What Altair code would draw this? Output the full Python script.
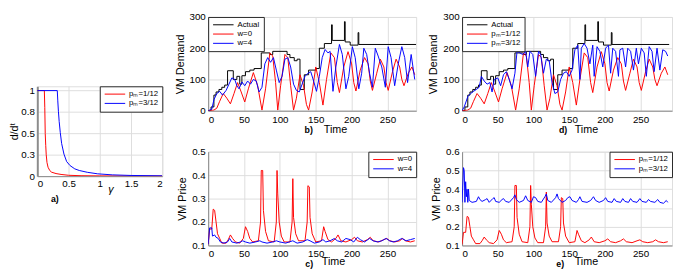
import altair as alt
import pandas as pd

FONT = "Liberation Sans"
RED, BLUE, BLACK = "#ff0000", "#0000ff", "#000000"

# ---------------- panel a ----------------
GAMMA_P1 = [0, 0.113, 0.12, 0.127, 0.135, 0.143, 0.155, 0.172, 0.2, 0.23, 0.3, 0.38, 0.5, 0.7, 1.0, 1.5, 2.0]
FRAC_P1 = [1, 1, 0.8, 0.5, 0.36, 0.25, 0.16, 0.104, 0.065, 0.046, 0.03, 0.02, 0.01, 0.005, 0.003, 0.002, 0.001]
GAMMA_P3 = [0, 0.32, 0.328, 0.338, 0.35, 0.368, 0.39, 0.427, 0.47, 0.525, 0.6, 0.672, 0.8, 0.966, 1.2, 1.5, 2.0]
FRAC_P3 = [1, 1, 0.88, 0.758, 0.64, 0.508, 0.38, 0.257, 0.17, 0.123, 0.085, 0.066, 0.045, 0.027, 0.015, 0.008, 0.004]

# ---------------- demand (b, d) ----------------
T_ACTUAL = [0, 4, 8, 11, 15, 19, 23, 27, 35, 40, 44, 47, 52, 58, 64, 74, 86, 90, 110, 114, 120, 124,
            128, 134, 140, 150, 155, 162, 172, 173, 190, 191, 198, 209, 210, 290]
V_ACTUAL = [0, 12, 50, 60, 68, 75, 82, 128, 100, 110, 85, 112, 125, 130, 135, 185, 180, 190, 180, 170, 160, 165,
            68, 115, 130, 135, 200, 215, 275, 225, 285, 220, 210, 250, 212, 212]

T_RED_DEM = [0, 8, 12, 16, 21, 26, 31, 36, 41, 46, 51, 56, 63, 69, 75, 80, 86, 90, 94, 97, 101, 107, 111, 115,
             119, 123, 128, 133, 137, 140, 145, 150, 155, 160, 165, 171, 176, 180, 183, 189, 195, 200, 203, 206,
             212, 218, 223, 226, 229, 235, 240, 245, 248, 251, 257, 262, 267, 270, 273, 279, 284, 288]
V_RED_DEM = [0, 2, 8, 30, 55, 40, 22, 55, 90, 60, 28, 70, 122, 80, 2, 70, 185, 175, 90, 2, 80, 180, 170, 80,
             2, 40, 115, 80, 20, 2, 60, 140, 90, 18, 100, 185, 170, 90, 58, 140, 189, 150, 90, 63,
             130, 170, 150, 95, 65, 120, 165, 140, 90, 65, 125, 165, 140, 100, 80, 120, 140, 115]

T_BLUE_W4 = [0, 5, 8, 12, 16, 20, 25, 29, 33, 37, 40, 43, 47, 51, 55, 59, 63, 67, 71, 75, 79, 83, 87, 91, 95,
             99, 103, 107, 111, 115, 119, 123, 127, 131, 135, 139, 143, 147, 151, 155, 159, 163, 167, 170, 174,
             178, 183, 187, 192, 196, 201, 205, 210, 214, 217, 221, 225, 229, 233, 237, 242, 247, 251, 255,
             260, 265, 270, 274, 278, 283, 288]
V_BLUE_W4 = [0, 5, 35, 55, 62, 50, 65, 85, 105, 100, 80, 70, 92, 80, 95, 85, 100, 95, 60, 75, 150, 170, 155, 170, 130,
             90, 110, 165, 170, 140, 85, 65, 60, 85, 110, 120, 125, 95, 62, 110, 170, 196, 185, 190, 62,
             140, 212, 180, 70, 110, 205, 170, 70, 120, 200, 180, 120, 75, 200, 175, 140, 75, 205, 170,
             80, 150, 205, 170, 90, 180, 100]

T_BLUE_P3 = [0, 3, 8, 12, 16, 20, 24, 27, 31, 35, 39, 42, 45, 50, 54, 58, 62, 66, 70, 74, 77, 81, 85, 89, 92,
             95, 99, 103, 107, 110, 114, 118, 122, 126, 130, 134, 138, 142, 146, 150, 154, 158, 162, 165, 167,
             171, 175, 179, 183, 185, 189, 193, 197, 201, 205, 208, 211, 215, 219, 221, 225, 229, 232, 236,
             240, 244, 247, 251, 255, 258, 262, 266, 269, 273, 277, 281, 285, 288]
V_BLUE_P3 = [0, 12, 45, 55, 62, 68, 75, 110, 95, 85, 90, 60, 100, 105, 80, 115, 125, 100, 70, 120, 190, 185, 180, 190, 140,
             190, 180, 110, 190, 180, 120, 165, 160, 90, 55, 60, 100, 120, 125, 110, 130, 195, 210, 100, 200,
             215, 200, 150, 210, 110, 205, 190, 140, 200, 210, 120, 200, 190, 110, 195, 200, 140, 200, 190,
             130, 200, 150, 200, 185, 110, 205, 190, 125, 200, 130, 195, 190, 175]

# ---------------- price (c, e) ----------------
T_RED_PRICE = [0, 2, 5, 7, 9, 11, 13, 16, 19, 25, 28, 31, 34, 38, 44, 49, 52, 55, 58, 62, 70, 73, 74, 76, 77, 80,
               84, 92, 95, 96, 97, 99, 102, 106, 114, 117, 118, 119, 122, 126, 135, 138, 139, 141, 142, 145,
               150, 158, 161, 163, 167, 172, 178, 181, 185, 192, 200, 204, 208, 215, 222, 226, 230, 238, 245,
               249, 253, 260, 267, 271, 275, 282, 288]
V_RED_PRICE = [0.105, 0.17, 0.17, 0.255, 0.25, 0.2, 0.15, 0.13, 0.11, 0.11, 0.125, 0.145, 0.13, 0.115, 0.11, 0.13,
               0.18, 0.16, 0.13, 0.115, 0.12, 0.2, 0.42, 0.42, 0.25, 0.16, 0.12, 0.115, 0.2, 0.42, 0.32, 0.2,
               0.14, 0.115, 0.115, 0.2, 0.385, 0.22, 0.15, 0.12, 0.12, 0.2, 0.355, 0.35, 0.22, 0.15, 0.115, 0.12,
               0.18, 0.16, 0.125, 0.115, 0.13, 0.145, 0.12, 0.115, 0.125, 0.135, 0.12, 0.115, 0.125, 0.135,
               0.12, 0.115, 0.125, 0.13, 0.12, 0.115, 0.12, 0.13, 0.12, 0.115, 0.12]

T_BLUE_W4_PRICE = [0, 2, 5, 6, 9, 11, 14, 17, 22, 27, 30, 33, 40, 45, 48, 52, 58, 66, 72, 75, 82, 90, 95, 100,
                   108, 113, 118, 124, 132, 138, 142, 148, 155, 160, 164, 170, 176, 180, 186, 192, 198, 203,
                   208, 212, 218, 225, 230, 236, 242, 248, 253, 258, 264, 270, 276, 282, 288]
V_BLUE_W4_PRICE = [0.105, 0.175, 0.175, 0.14, 0.145, 0.135, 0.13, 0.115, 0.11, 0.115, 0.13, 0.115, 0.11, 0.115,
                   0.12, 0.115, 0.11, 0.115, 0.12, 0.115, 0.11, 0.115, 0.12, 0.115, 0.11, 0.115, 0.12, 0.11,
                   0.115, 0.125, 0.12, 0.11, 0.115, 0.125, 0.115, 0.12, 0.13, 0.12, 0.115, 0.13, 0.125, 0.115,
                   0.135, 0.125, 0.115, 0.13, 0.12, 0.115, 0.12, 0.13, 0.12, 0.115, 0.12, 0.13, 0.12, 0.125, 0.13]

T_BLUE_P3_PRICE = [0, 2, 3, 4, 5, 6, 7, 8, 9, 10, 14, 20, 23, 25, 28, 33, 35, 38, 43, 45, 47, 52, 56, 58, 61,
                   66, 72, 74, 76, 80, 86, 89, 92, 97, 100, 103, 106, 111, 116, 118, 120, 125, 131, 133, 135,
                   140, 145, 148, 151, 154, 160, 163, 165, 168, 175, 180, 184, 187, 192, 198, 201, 204, 210,
                   213, 216, 222, 225, 228, 233, 236, 239, 245, 249, 252, 258, 261, 264, 270, 274, 277, 282,
                   286, 288]
V_BLUE_P3_PRICE = [0.33, 0.515, 0.5, 0.33, 0.44, 0.36, 0.40, 0.33, 0.40, 0.34, 0.33, 0.335, 0.36, 0.345, 0.335,
                   0.345, 0.35, 0.33, 0.35, 0.355, 0.335, 0.33, 0.345, 0.35, 0.335, 0.33, 0.355, 0.37, 0.345,
                   0.33, 0.34, 0.365, 0.34, 0.33, 0.36, 0.355, 0.335, 0.33, 0.36, 0.375, 0.34, 0.33, 0.355,
                   0.375, 0.35, 0.33, 0.34, 0.355, 0.36, 0.34, 0.33, 0.345, 0.36, 0.335, 0.33, 0.34, 0.36,
                   0.34, 0.33, 0.34, 0.355, 0.335, 0.33, 0.35, 0.335, 0.33, 0.35, 0.335, 0.33, 0.35, 0.335,
                   0.33, 0.35, 0.335, 0.33, 0.345, 0.335, 0.33, 0.345, 0.33, 0.325, 0.34, 0.33]

LAB_ACTUAL = "Actual"
LAB_W0, LAB_W4 = "w=0", "w=4"
LAB_P1, LAB_P3 = "p\u2098=1/12", "p\u2098=3/12"
TIME_TICKS = [0, 50, 100, 150, 200, 250]

# zero-length, invisible ticks so labels sit exactly labelPadding away from the frame
TICK = dict(ticks=True, tickSize=0, tickColor="transparent")


def frame(t, v, s):
    return pd.DataFrame({"t": t, "v": v, "s": s})


def legend(orient):
    return alt.Legend(orient=orient, offset=0, title=None, padding=4, strokeColor="#262626",
                      fillColor="#ffffff", symbolType="M-1,0H6", symbolSize=36, symbolStrokeWidth=1,
                      labelFontSize=8, labelFont=FONT, labelColor="#000000", labelOffset=18,
                      rowPadding=1.5, cornerRadius=0)


def color_enc(domain, rng, orient):
    return alt.Color("s:N", scale=alt.Scale(domain=domain, range=rng), legend=legend(orient))


def panel_title(txt, dx, dy):
    return alt.TitleParams(txt, orient="bottom", anchor="middle", dx=dx, dy=dy, fontSize=9,
                           fontWeight="bold", font=FONT, color="#000000")


def time_x(xmax, title_x, title_y, label_pad):
    return alt.X("t:Q", scale=alt.Scale(domain=[0, xmax], nice=False, zero=False),
                 axis=alt.Axis(values=TIME_TICKS, format="~f", title="Time", titleX=title_x,
                               titleY=title_y, titleBaseline="middle", titleFontWeight="normal",
                               labelPadding=label_pad, **TICK))


def demand_panel(blue_t, blue_v, lab_r, lab_b, xmax, width, tag, dx, time_frac):
    dom = [LAB_ACTUAL, lab_r, lab_b]
    col = color_enc(dom, [BLACK, RED, BLUE], "top-left")
    x = time_x(xmax, width * time_frac, 19, 4)
    y = alt.Y("v:Q", scale=alt.Scale(domain=[0, 300], nice=False),
              axis=alt.Axis(values=[0, 100, 200, 300], format="~f", title="VM Demand",
                            titleFontWeight="normal", labelPadding=3, **TICK))
    act = alt.Chart(frame(T_ACTUAL, V_ACTUAL, LAB_ACTUAL)).mark_line(
        interpolate="step-after", strokeWidth=1, clip=True).encode(x=x, y=y, color=col)
    rb = pd.concat([frame(T_RED_DEM, V_RED_DEM, lab_r), frame(blue_t, blue_v, lab_b)])
    lines = alt.Chart(rb).mark_line(strokeWidth=1, clip=True).encode(x=x, y=y, color=col)
    return alt.layer(act, lines).properties(width=width, height=96, title=panel_title(tag, dx, -12))


def price_panel(blue_t, blue_v, lab_r, lab_b, xmax, ymax, yticks, width, tag, dx, dy, time_frac):
    col = color_enc([lab_r, lab_b], [RED, BLUE], "top-right")
    x = time_x(xmax, width * time_frac, 16.5, 3)
    y = alt.Y("v:Q", scale=alt.Scale(domain=[0.1, ymax], nice=False, zero=False),
              axis=alt.Axis(values=yticks, format="~f", title="VM Price", titleFontWeight="normal",
                            labelPadding=3, **TICK))
    df = pd.concat([frame(T_RED_PRICE, V_RED_PRICE, lab_r), frame(blue_t, blue_v, lab_b)])
    return alt.Chart(df).mark_line(strokeWidth=1, clip=True).encode(x=x, y=y, color=col).properties(
        width=width, height=96, title=panel_title(tag, dx, dy))


# panel a
a_df = pd.concat([frame(GAMMA_P1, FRAC_P1, LAB_P1), frame(GAMMA_P3, FRAC_P3, LAB_P3)])
A_W = 128
panel_a = alt.Chart(a_df).mark_line(strokeWidth=1, clip=True).encode(
    x=alt.X("t:Q", scale=alt.Scale(domain=[0, 2], nice=False),
            axis=alt.Axis(values=[0, 0.5, 1, 1.5, 2], format="~f", title="\u03b3", titleX=A_W * 0.585,
                          titleY=14, titleBaseline="middle", titleFontSize=11, titleFontStyle="italic",
                          titleFontWeight="normal", labelPadding=3, **TICK)),
    y=alt.Y("v:Q", scale=alt.Scale(domain=[0, 1.05], nice=False),
            axis=alt.Axis(values=[0, 0.25, 0.5, 0.75, 1], format="~f", title="d/d\u1d57",
                          titlePadding=1, titleFontWeight="normal", domain=True, labelPadding=3,
                          domainColor="#8c8c8c", domainWidth=2, **TICK)),
    color=color_enc([LAB_P1, LAB_P3], [RED, BLUE], "top-right"),
).properties(width=A_W, height=92, title=panel_title("a)", -46, -4))

# invisible spacer that pushes panel a down to mid-height
spacer = alt.Chart(pd.DataFrame({"t": [0]})).mark_point(opacity=0).encode(
    x=alt.X("t:Q", axis=None), y=alt.Y("t:Q", axis=None)
).properties(width=A_W, height=68, view=alt.ViewBackground(stroke="transparent"))

panel_b = demand_panel(T_BLUE_W4, V_BLUE_W4, LAB_W0, LAB_W4, 290, 213, "b)", -3.5, 0.61)
panel_c = price_panel(T_BLUE_W4_PRICE, V_BLUE_W4_PRICE, LAB_W0, LAB_W4, 290, 0.5,
                      [0.1, 0.2, 0.3, 0.4, 0.5], 213, "c)", -3, -10.5, 0.6)
panel_d = demand_panel(T_BLUE_P3, V_BLUE_P3, LAB_P1, LAB_P3, 294, 215, "d)", -4, 0.59)
panel_e = price_panel(T_BLUE_P3_PRICE, V_BLUE_P3_PRICE, LAB_P1, LAB_P3, 294, 0.6,
                      [0.1, 0.2, 0.3, 0.4, 0.5, 0.6], 215, "e)", -7, -10.5, 0.59)

col1 = alt.vconcat(spacer, panel_a, spacing=0).resolve_scale(color="independent")
col2 = alt.vconcat(panel_b, panel_c, spacing=10).resolve_scale(color="independent")
col3 = alt.vconcat(panel_d, panel_e, spacing=10).resolve_scale(color="independent")

chart = alt.hconcat(col1, col2, col3, spacing=10, padding=0).resolve_scale(
    color="independent").configure_axis(
    labelFont=FONT, titleFont=FONT, labelFontSize=8.5, titleFontSize=9, labelColor="#262626",
    titleColor="#262626", titleFontWeight="normal", grid=True, gridColor="#e3e3e3", domain=False,
    ticks=True, tickSize=0, tickColor="transparent", labelPadding=3, titlePadding=2).configure_view(
    stroke="#262626", strokeWidth=1).configure(background="#ffffff")

chart.save("out.html", embed_options={"renderer": "svg", "actions": False})
